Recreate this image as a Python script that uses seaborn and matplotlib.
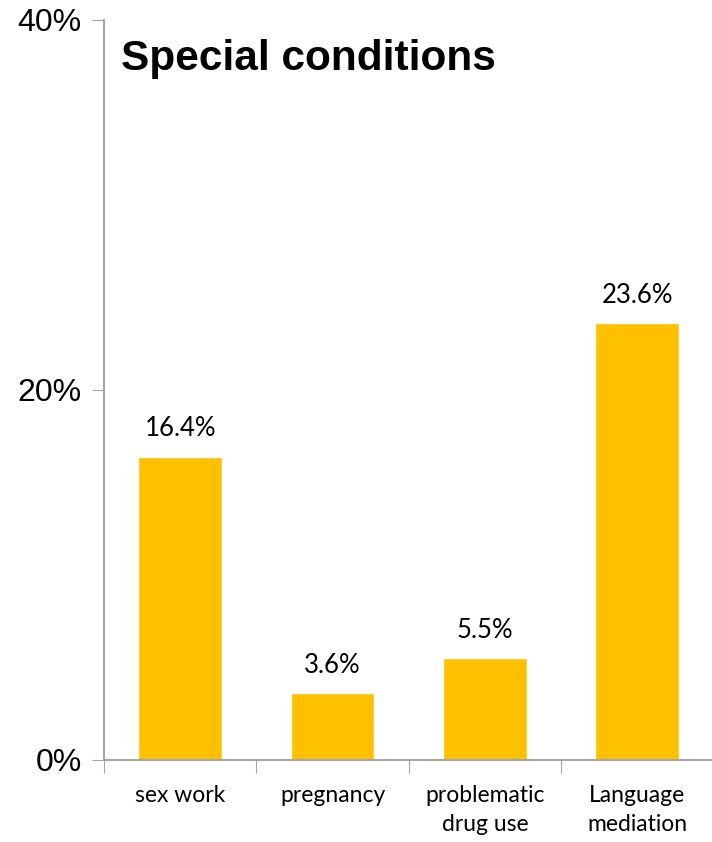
import matplotlib
matplotlib.use("Agg")
import matplotlib.pyplot as plt
import seaborn as sns
import pandas as pd

# chart data
categories = ["sex work", "pregnancy", "problematic\ndrug use", "Language\nmediation"]
values = [16.4, 3.6, 5.5, 23.6]
value_labels = ["16.4%", "3.6%", "5.5%", "23.6%"]
y_ticks = [0, 20, 40]
y_tick_labels = ["0%", "20%", "40%"]

df = pd.DataFrame({"category": categories, "value": values})

sns.set_style("white")
plt.rcParams["font.family"] = ["Liberation Sans", "DejaVu Sans"]
plt.rcParams["text.color"] = "black"
plt.rcParams["xtick.labelcolor"] = "black"
plt.rcParams["ytick.labelcolor"] = "black"

fig = plt.figure(figsize=(7.12, 8.42), dpi=100)
ax = fig.add_axes([0.146, 0.0974, 0.856, 0.879])

sns.barplot(data=df, x="category", y="value", color="#FFC000",
            saturation=1, width=0.55, ax=ax)

ax.set_ylim(0, 40)
ax.set_xlim(-0.5, 3.5)
ax.set_yticks(y_ticks)
ax.set_yticklabels(y_tick_labels, fontsize=23, color="black")
ax.set_xlabel("")
ax.set_ylabel("")

# category boundary ticks on x axis
ax.set_xticks([i + 0.5 for i in range(-1, len(categories))], minor=False)
ax.set_xticklabels([])
ax.set_xticks(range(len(categories)), minor=True)
ax.set_xticklabels(categories, minor=True, fontsize=16.5, family="Lato",
                   color="black", linespacing=1.45)
ax.tick_params(axis="x", which="major", length=9, color="#A6A6A6", direction="out", bottom=True)
ax.tick_params(axis="x", which="minor", length=0, pad=18)
ax.tick_params(axis="y", length=9, color="#A6A6A6", direction="out", left=True, pad=7)

for side in ["top", "right"]:
    ax.spines[side].set_visible(False)
for side in ["left", "bottom"]:
    ax.spines[side].set_color("#A6A6A6")
    ax.spines[side].set_linewidth(1.5)

for i, (v, lab) in enumerate(zip(values, value_labels)):
    ax.annotate(lab, (i, v), xytext=(0, 11), textcoords="offset points",
                ha="center", va="bottom", fontsize=18.5, family="Lato", color="black")

ax.text(0.028, 0.947, "Special conditions", transform=ax.transAxes,
        fontsize=30.5, fontweight="bold", ha="left", va="center", color="black")

fig.savefig("out.png", dpi=100)
